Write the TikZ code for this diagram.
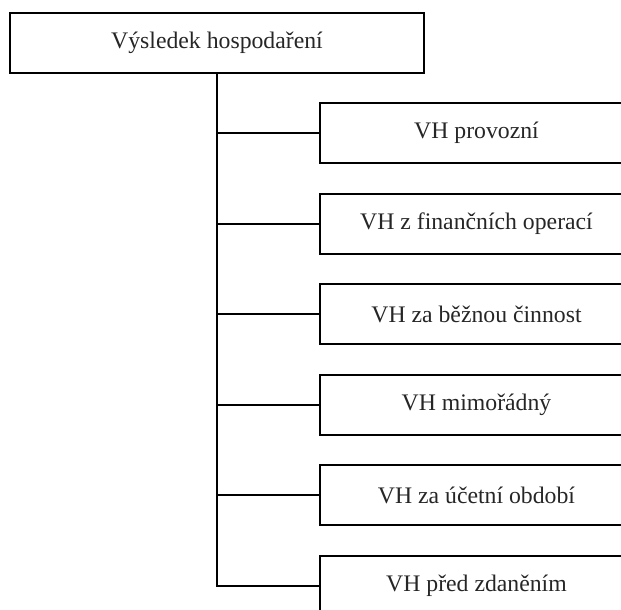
\documentclass[tikz,border=0pt]{standalone}
\usepackage{fontspec}
\setmainfont{Liberation Serif}
\begin{document}
\begin{tikzpicture}[x=0.75pt,y=-0.75pt,
  box/.style={draw=black, line width=1.5pt, rectangle, inner sep=0pt,
    minimum height=60*0.75pt, font=\fontsize{17.8pt}{20pt}\selectfont, text=black!85},
  topbox/.style={box, minimum width=414*0.75pt},
  childbox/.style={box, minimum width=313*0.75pt},
  link/.style={draw=black, line width=1.5pt}]
\useasboundingbox (0,0) rectangle (621,610);
\clip (0,0) rectangle (621,610);
\node[topbox] (top) at (217,43) {Výsledek hospodaření};
\node[childbox] (c1) at (476.5,133) {VH provozní};
\node[childbox] (c2) at (476.5,223.6) {VH z finančních operací};
\node[childbox] (c3) at (476.5,314.2) {VH za běžnou činnost};
\node[childbox] (c4) at (476.5,404.8) {VH mimořádný};
\node[childbox] (c5) at (476.5,495.4) {VH za účetní období};
\node[childbox] (c6) at (476.5,586) {VH před zdaněním};
\draw[link] (top.south) |- (c6.west);
\foreach \c in {c1,c2,c3,c4,c5}
  \draw[link] (top.south |- \c.west) -- (\c.west);
\end{tikzpicture}
\end{document}
